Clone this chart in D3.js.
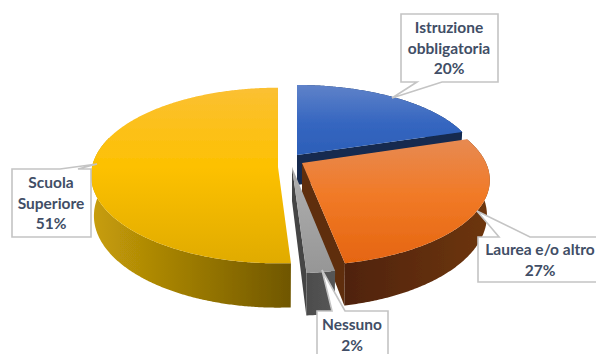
<!DOCTYPE html>
<html><head><meta charset="utf-8">
<style>html,body{margin:0;padding:0;background:#fff;overflow:hidden}svg{display:block}</style>
<script src="https://cdn.jsdelivr.net/npm/d3@7"></script></head><body>
<svg id="c" width="596" height="354"></svg>
<script>
const categories = ["Istruzione obbligatoria","Laurea e/o altro","Nessuno","Scuola Superiore"];
const values = [20,27,2,51];
const labelLines = [["Istruzione","obbligatoria"],["Laurea e/o altro"],["Nessuno"],["Scuola","Superiore"]];

// projection per exploded slice: apex, radii, perspective, depth
const geom = [
 {ax:297,ay:155,R:179,B:77,k:.10,D:30},
 {ax:302,ay:163,R:184,B:82,k:.20,D:34},
 {ax:292,ay:167,R:185,B:85,k:.20,D:34},
 {ax:278,ay:167,R:186,B:87,k:.097,D:40}
];
const topStops = [
 [["0%","#5f82c9"],["55%","#3566c0"],["100%","#2c5fb8"]],
 [["0%","#e78a52"],["45%","#f17a27"],["100%","#e56510"]],
 [["0%","#b0b0b0"],["100%","#969696"]],
 [["0%","#fbc033"],["45%","#fdc101"],["100%","#e0ab00"]]
];
// wall gradient: left colour, right colour, left x, right x
const wallGrad = [
 ["#14305f","#14305f",297,476],
 ["#4e2208","#6e360e",340,490],
 ["#4c4c4c","#575757",305,338],
 ["#c89e08","#6f5600",92,292]
];
const faceColor = ["#12294f","#5e2d0b","#454545",null];
const boxes = [
 {x:401,y:14,w:97,h:68,cx:449,base:33,side:"bottom",p:[417,442],tip:[392,98]},
 {x:478,y:237,w:134,h:45,cx:540,base:255,side:"top",p:[499,530],tip:[477,211]},
 {x:317,y:311,w:71,h:60,cx:352,base:330,side:"top",p:[332,345],tip:[322,270]},
 {x:12,y:169,w:79,h:68,cx:51,base:188,side:"top",p:[60,78],tip:[97,164]}
];
const lineStep = 20.6;

const svg = d3.select("#c");
const defs = svg.append("defs");
defs.append("filter").attr("id","soft").attr("x","-5%").attr("y","-5%").attr("width","110%").attr("height","110%")
  .append("feGaussianBlur").attr("stdDeviation",0.45);
const arcs = d3.pie().sort(null).value(d=>d)(values);

function P(g,a,r,z){
  const X=r*Math.sin(a),Y=r*Math.cos(a),s=1/(1+g.k*Y);
  const b=z?0.985:1;
  return [g.ax+g.R*X*s*b, g.ay-g.B*Y*s+(z?g.D*s:0)];
}
const line = d3.line();
const step = Math.PI/180;
const root = svg.append("g").attr("filter","url(#soft)");

topStops.forEach((st,i)=>{
  const lg=defs.append("linearGradient").attr("id","t"+i).attr("x1",0).attr("y1",0).attr("x2",0).attr("y2",1);
  st.forEach(s=>lg.append("stop").attr("offset",s[0]).attr("stop-color",s[1]));
});
wallGrad.forEach((w,i)=>{
  const lg=defs.append("linearGradient").attr("id","w"+i).attr("gradientUnits","userSpaceOnUse")
    .attr("x1",w[2]).attr("y1",0).attr("x2",w[3]).attr("y2",0);
  lg.append("stop").attr("offset","0%").attr("stop-color",w[0]);
  lg.append("stop").attr("offset","100%").attr("stop-color",w[1]);
});

function sweep(a0,a1,ds){return d3.range(a0,a1,ds).concat([a1]);}
function drawFace(i){
  if(!faceColor[i])return;
  const g=geom[i],d=arcs[i];
  const edge=d.endAngle;
  const q=[P(g,0,0,false),P(g,edge,1,false),P(g,edge,1,true),P(g,0,0,true)];
  root.append("path").attr("d",line(q)+"Z").attr("fill",faceColor[i]);
}
function drawWall(i){
  const g=geom[i],d=arcs[i];
  const a0=d.startAngle,a1=d.endAngle;
  const as=sweep(a0,a1,step/2).filter(a=>Math.cos(a)<0.35||i===0);
  const q=as.map(a=>P(g,a,1,false)).concat(as.slice().reverse().map(a=>P(g,a,1,true)));
  root.append("path").attr("d",line(q)+"Z").attr("fill",`url(#w${i})`);
}
function drawTop(i){
  const g=geom[i],d=arcs[i];
  const pts=[P(g,0,0,false)].concat(sweep(d.startAngle,d.endAngle,step/2).map(a=>P(g,a,1,false)));
  root.append("path").attr("d",line(pts)+"Z").attr("fill",`url(#t${i})`);
}
// back to front: blue, yellow, orange's side faces, grey, orange's top
drawWall(0);drawFace(0);drawTop(0);
drawWall(3);drawTop(3);
drawFace(1);drawWall(1);
drawFace(2);drawWall(2);drawTop(2);
drawTop(1);

// callouts
const lab=svg.append("g");
arcs.forEach((d,i)=>{
  const b=boxes[i];
  const ye=b.side==="top"?b.y:b.y+b.h;
  const pts = b.side==="top"
   ? [[b.x,b.y],[b.p[0],b.y],b.tip,[b.p[1],b.y],[b.x+b.w,b.y],[b.x+b.w,b.y+b.h],[b.x,b.y+b.h]]
   : [[b.x,b.y],[b.x+b.w,b.y],[b.x+b.w,b.y+b.h],[b.p[1],ye],b.tip,[b.p[0],ye],[b.x,b.y+b.h]];
  lab.append("path").attr("d",line(pts)+"Z").attr("fill","#fff").attr("stroke","#c4c4c4").attr("stroke-width",1.6);
  const lines=labelLines[i].concat([values[i]+"%"]);
  lines.forEach((t,j)=>{
    lab.append("text").attr("x",b.cx).attr("y",b.base+j*lineStep).attr("text-anchor","middle")
      .attr("font-family","Lato, 'Open Sans', sans-serif").attr("font-weight",700).attr("font-size",15.5)
      .attr("fill","#414e66").text(t);
  });
});
</script></body></html>
